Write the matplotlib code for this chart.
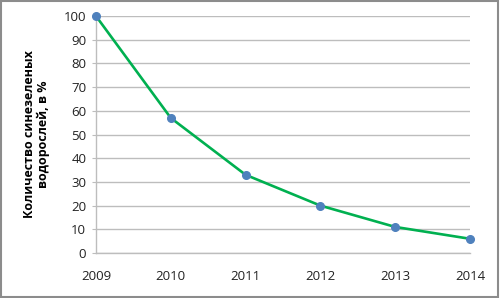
import matplotlib
matplotlib.use("Agg")
import matplotlib.pyplot as plt
from matplotlib.patches import Rectangle

years = [2009, 2010, 2011, 2012, 2013, 2014]
values = [100, 57, 33, 20, 11, 6]
yticks = list(range(0, 101, 10))
ylabel = "Количество синезеленых\nводорослей, в %"

plt.rcParams['font.family'] = ['Open Sans', 'DejaVu Sans']

fig = plt.figure(figsize=(5.0, 2.98), dpi=100)
ax = fig.add_axes([0.192, 0.151, 0.748, 0.795])

ax.plot(years, values, color='#00B050', linewidth=1.9, zorder=3,
        marker='o', markersize=5.5, markerfacecolor='#4F81BD',
        markeredgecolor='#4F81BD', clip_on=False)

ax.set_xlim(2009, 2014)
ax.set_ylim(0, 100)
ax.set_yticks(yticks)
ax.set_xticks(years)
ax.set_xticklabels([str(y) for y in years])
ax.grid(axis='y', color='#BDBDBD', linewidth=1.0)
ax.set_axisbelow(True)
for s in ['top', 'right']:
    ax.spines[s].set_visible(False)
for s in ['left', 'bottom']:
    ax.spines[s].set_color('#BDBDBD')
    ax.spines[s].set_linewidth(1.0)
ax.tick_params(axis='y', length=3, color='#BDBDBD', labelsize=9.5, pad=4, labelcolor='#222222')
ax.tick_params(axis='x', length=0, labelsize=9.5, pad=12, labelcolor='#222222')
ax.set_ylabel(ylabel, fontsize=9, fontweight='bold', labelpad=10, linespacing=1.1)

fig.patches.append(Rectangle((0.002, 0.004), 0.994, 0.992, transform=fig.transFigure,
                             fill=False, edgecolor='#8C8C8C', linewidth=1.5))

fig.savefig('out.png', dpi=100)
